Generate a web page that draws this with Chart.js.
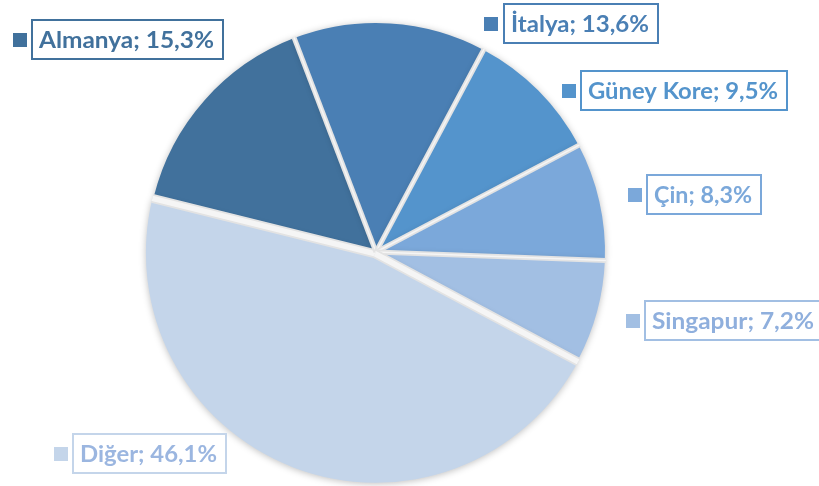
<!DOCTYPE html>
<html>
<head>
<meta charset="utf-8">
<script src="https://cdn.jsdelivr.net/npm/chart.js@4"></script>
<style>
  html, body { margin: 0; padding: 0; background: #ffffff; }
  #wrap { width: 819px; height: 486px; }
</style>
</head>
<body>
<div id="wrap"><canvas id="c" width="819" height="486"></canvas></div>
<script>
// ---- data ----
const categories = ["Almanya", "İtalya", "Güney Kore", "Çin", "Singapur", "Diğer"];
const shares = [15.3, 13.6, 9.5, 8.3, 7.2, 46.1];
const sliceColors = ["#41719C", "#4A7FB4", "#5494CC", "#7BA8DA", "#A2BFE3", "#C4D5EA"];
const textColors  = ["#41719C", "#4A7FB4", "#5494CC", "#7BA8DA", "#8FAFDD", "#9BB6E0"];
const explode = [0, 0, 0, 0, 0, 4];

// label box placement (annotation layout, not data)
const labelLayout = [
  { mx: 13,  bx: 31,  by: 19,  bw: 193 },
  { mx: 484, bx: 503, by: 3,   bw: 156 },
  { mx: 562, bx: 580, by: 70,  bw: 208 },
  { mx: 628, bx: 646, by: 174, bw: 116 },
  { mx: 626, bx: 644, by: 300, bw: 180 },
  { mx: 54,  bx: 72,  by: 433, bw: 155 }
];

function fmt(v) { return v.toFixed(1).replace('.', ',') + '%'; }

const shadowPlugin = {
  id: 'pieShadow',
  beforeDatasetsDraw(chart) {
    const ctx = chart.ctx;
    ctx.save();
    ctx.shadowColor = 'rgba(0,0,0,0.25)';
    ctx.shadowBlur = 7;
    ctx.shadowOffsetX = 0;
    ctx.shadowOffsetY = 1;
  },
  afterDatasetsDraw(chart) {
    const ctx = chart.ctx;
    ctx.restore();
    const meta = chart.getDatasetMeta(0);
    const n = meta.data.length;
    function sep(cx, cy, ang, r, w) {
      const ex = cx + Math.cos(ang) * (r + 1);
      const ey = cy + Math.sin(ang) * (r + 1);
      ctx.beginPath();
      ctx.moveTo(cx, cy);
      ctx.lineTo(ex, ey);
      ctx.strokeStyle = '#E3E3E3';
      ctx.lineWidth = w;
      ctx.lineCap = 'butt';
      ctx.stroke();
      ctx.beginPath();
      ctx.moveTo(cx, cy);
      ctx.lineTo(ex, ey);
      ctx.strokeStyle = 'rgba(255,255,255,0.65)';
      ctx.lineWidth = Math.max(1.5, w - 3.5);
      ctx.stroke();
    }
    ctx.save();
    meta.data.forEach((arc, i) => {
      const p = arc.getProps(['x', 'y', 'startAngle', 'endAngle', 'outerRadius'], true);
      const prev = (i + n - 1) % n;
      // offset of whichever neighbouring slice is exploded
      let ox = 0, oy = 0;
      [[i, arc], [prev, meta.data[prev]]].forEach(([k, a]) => {
        if (explode[k] > 0) {
          const q = a.getProps(['startAngle', 'endAngle'], true);
          const mid = (q.startAngle + q.endAngle) / 2;
          ox += Math.cos(mid) * explode[k];
          oy += Math.sin(mid) * explode[k];
        }
      });
      const dx = Math.cos(p.startAngle), dy = Math.sin(p.startAngle);
      const dot = ox * dx + oy * dy;
      const px = ox - dot * dx, py = oy - dot * dy;
      const plen = Math.hypot(px, py);
      sep(p.x + px / 2, p.y + py / 2, p.startAngle, p.outerRadius, 5 + plen);
    });
    ctx.restore();
  }
};

const labelPlugin = {
  id: 'boxLabels',
  afterDraw(chart) {
    const ctx = chart.ctx;
    const ds = chart.data.datasets[0];
    ctx.save();
    chart.data.labels.forEach((lab, i) => {
      const L = labelLayout[i];
      const bh = 41;
      const text = lab + '; ' + fmt(ds.data[i]);
      ctx.fillStyle = sliceColors[i];
      ctx.fillRect(L.mx, L.by + 14, 14, 14);
      ctx.fillStyle = '#ffffff';
      ctx.fillRect(L.bx, L.by, L.bw, bh);
      ctx.strokeStyle = sliceColors[i];
      ctx.lineWidth = 2;
      ctx.strokeRect(L.bx + 1, L.by + 1, L.bw - 2, bh - 2);
      ctx.font = 'bold 22px Lato, "Open Sans", sans-serif';
      const tw = ctx.measureText(text).width;
      const target = L.bw - 18;
      const sx = Math.min(1.15, target / tw);
      ctx.fillStyle = textColors[i];
      ctx.textBaseline = 'middle';
      ctx.textAlign = 'left';
      ctx.save();
      ctx.translate(L.bx + 8, L.by + bh / 2 + 1);
      ctx.scale(sx, 1);
      ctx.fillText(text, 0, 0);
      ctx.restore();
    });
    ctx.restore();
  }
};

new Chart(document.getElementById('c'), {
  type: 'pie',
  data: {
    labels: categories,
    datasets: [{
      data: shares,
      backgroundColor: sliceColors,
      borderWidth: 0,
      offset: explode,
      hoverOffset: 0
    }]
  },
  options: {
    responsive: false,
    animation: false,
    rotation: -76,
    radius: 229,
    layout: { padding: { left: 1, right: 68, top: 18, bottom: 0 } },
    plugins: {
      legend: { display: false },
      tooltip: { enabled: false }
    }
  },
  plugins: [shadowPlugin, labelPlugin]
});
</script>
</body>
</html>
